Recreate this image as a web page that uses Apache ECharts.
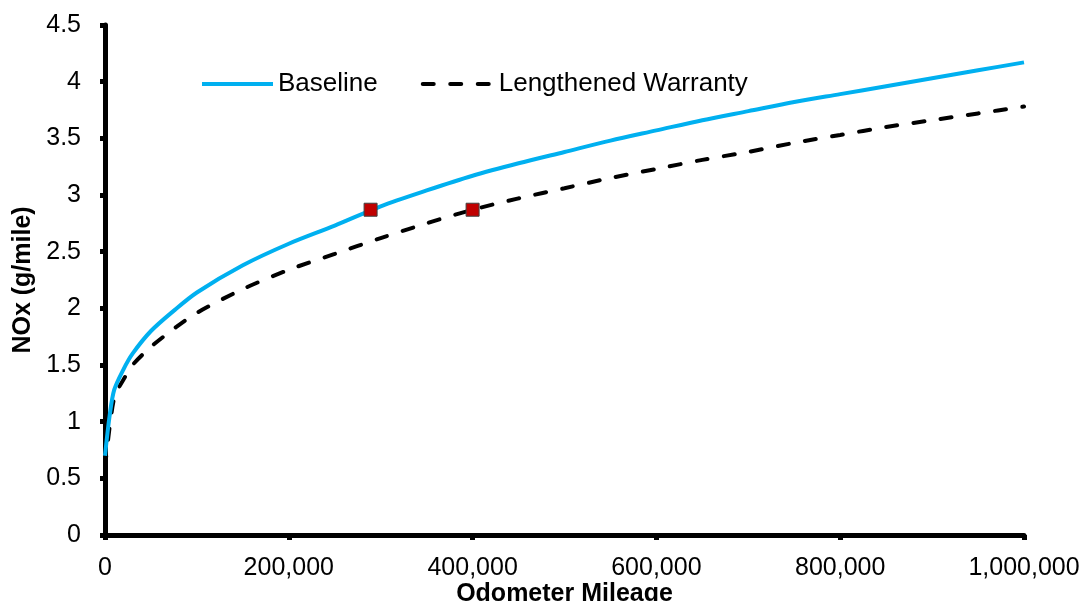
<!DOCTYPE html>
<html>
<head>
<meta charset="utf-8">
<script src="https://cdn.jsdelivr.net/npm/echarts@6/dist/echarts.min.js"></script>
<style>
html,body{margin:0;padding:0;background:#fff;}
#chart{width:1086px;height:601px;}
</style>
</head>
<body>
<div id="chart"></div>
<script>
// Odometer mileage sample points (miles)
const baselineMiles = [0, 5000, 10000, 20000, 30000, 50000, 75000, 100000, 150000, 200000, 250000, 300000, 350000, 400000, 450000, 500000, 550000, 600000, 650000, 700000, 750000, 800000, 850000, 900000, 950000, 1000000];
const baselineNOx   = [0.70, 1.05, 1.28, 1.46, 1.60, 1.80, 1.98, 2.14, 2.38, 2.57, 2.73, 2.90, 3.04, 3.17, 3.28, 3.38, 3.48, 3.57, 3.66, 3.74, 3.82, 3.89, 3.96, 4.03, 4.10, 4.17];

const warrantyMiles = [0, 5000, 10000, 15000, 20000, 30000, 50000, 75000, 100000, 150000, 200000, 250000, 300000, 350000, 400000, 450000, 500000, 550000, 600000, 650000, 700000, 750000, 800000, 850000, 900000, 950000, 1000000];
const warrantyNOx   = [0.60, 0.95, 1.21, 1.30, 1.37, 1.50, 1.66, 1.82, 1.96, 2.17, 2.34, 2.48, 2.62, 2.75, 2.87, 2.97, 3.06, 3.15, 3.23, 3.31, 3.38, 3.46, 3.53, 3.60, 3.66, 3.72, 3.78];

const markerMiles = [289000, 400000];
const markerNOx   = [2.87, 2.87];

const xTicks = [0, 200000, 400000, 600000, 800000, 1000000];
const yTicks = [0, 0.5, 1, 1.5, 2, 2.5, 3, 3.5, 4, 4.5];

const zip = (a, b) => a.map((v, i) => [v, b[i]]);
const FONT = "'Liberation Sans', Arial, sans-serif";

const chart = echarts.init(document.getElementById('chart'), null, {renderer: 'canvas'});
chart.setOption({
  animation: false,
  backgroundColor: '#ffffff',
  textStyle: {fontFamily: FONT},
  grid: {left: 105, right: 62, top: 25, bottom: 66, containLabel: false, outerBoundsMode: 'none'},
  legend: {
    left: 195, top: 66,
    itemWidth: 71, itemHeight: 14, itemGap: 43,
    itemStyle: {opacity: 0},
    lineStyle: {width: 4},
    textStyle: {fontFamily: FONT, fontSize: 26, color: '#000'},
    data: ['Baseline', 'Lengthened Warranty']
  },
  xAxis: {
    type: 'value',
    min: xTicks[0], max: xTicks[xTicks.length - 1], interval: 200000,
    name: 'Odometer Mileage', nameLocation: 'middle', nameGap: 47, nameMoveOverlap: false,
    nameTextStyle: {fontFamily: FONT, fontSize: 25, fontWeight: 'bold', color: '#000'},
    axisLine: {show: true, lineStyle: {color: '#000', width: 5}},
    axisTick: {show: true, inside: false, length: 5, lineStyle: {color: '#000', width: 5}},
    axisLabel: {margin: 21, fontSize: 25, color: '#000', fontFamily: FONT,
      formatter: v => v.toLocaleString('en-US')},
    splitLine: {show: false}
  },
  yAxis: {
    type: 'value',
    min: yTicks[0], max: yTicks[yTicks.length - 1], interval: 0.5,
    name: 'NOx (g/mile)', nameLocation: 'middle', nameGap: 69, nameMoveOverlap: false,
    nameTextStyle: {fontFamily: FONT, fontSize: 25, fontWeight: 'bold', color: '#000'},
    axisLine: {show: true, lineStyle: {color: '#000', width: 5}},
    axisTick: {show: true, inside: false, length: 5, lineStyle: {color: '#000', width: 5}},
    axisLabel: {margin: 24, fontSize: 25, color: '#000', fontFamily: FONT},
    splitLine: {show: false}
  },
  series: [
    {
      name: 'Baseline', type: 'line', data: zip(baselineMiles, baselineNOx),
      symbol: 'none', smooth: 0.3, z: 3,
      lineStyle: {color: '#00B0F0', width: 4},
      itemStyle: {color: '#00B0F0'}
    },
    {
      name: 'Lengthened Warranty', type: 'line', data: zip(warrantyMiles, warrantyNOx),
      symbol: 'none', smooth: 0.3, z: 2,
      lineStyle: {color: '#000', width: 4, type: [11, 16.5], cap: 'round'},
      itemStyle: {color: '#000'}
    },
    {
      name: 'Points', type: 'scatter', data: zip(markerMiles, markerNOx),
      symbol: 'rect', symbolSize: 13, z: 5,
      itemStyle: {color: '#C00000', borderColor: '#404040', borderWidth: 1, opacity: 1}
    }
  ]
});
</script>
</body>
</html>
